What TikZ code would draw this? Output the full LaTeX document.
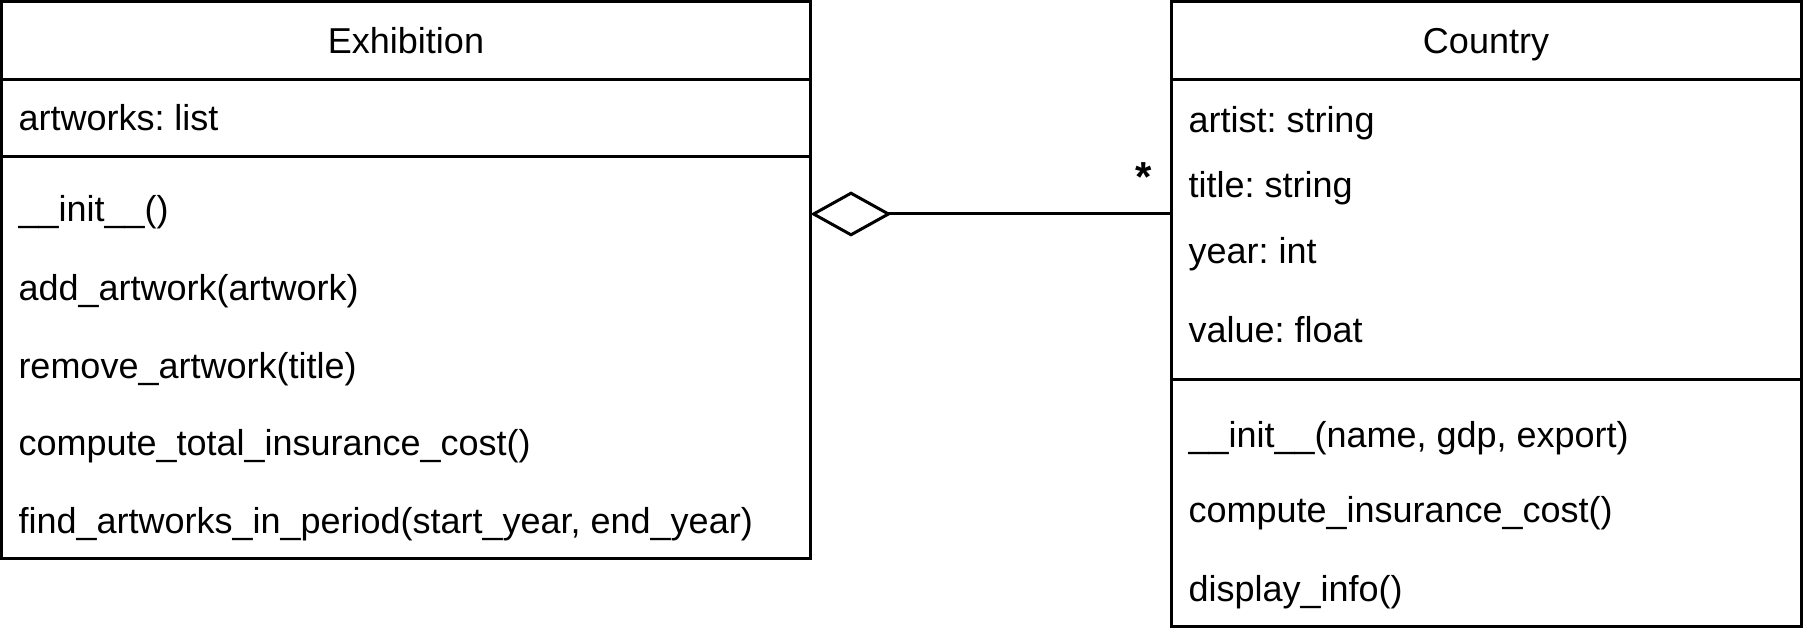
\documentclass[tikz,border=0pt]{standalone}
\usepackage{fontspec}
\setmainfont{Liberation Sans}
\usepackage{tikz}
\usetikzlibrary{positioning,arrows.meta}
\frenchspacing

\begin{document}
\begin{tikzpicture}[x=1pt, y=-1pt, line width=3pt,
    classbox/.style={draw, rectangle, inner sep=0pt, outer sep=0pt},
    member/.style={anchor=base west, inner sep=0pt, font=\fontsize{36}{43}\selectfont},
    classname/.style={anchor=base, inner sep=0pt, font=\fontsize{36}{43}\selectfont}]
    \useasboundingbox (0,0) rectangle (1803,636);

    % Exhibition
    \node[classbox, minimum width=809pt, minimum height=557pt] (exhibition) at (406,280) {};
    \node[classname] (exname) at (406,54) {Exhibition};
    \draw (exhibition.west |- 0,79.5) -- (exhibition.east |- 0,79.5);
    \draw (exhibition.west |- 0,157) -- (exhibition.east |- 0,157);
    \node[member] (exattr) at (17,131) {artworks: list};
    \node[member] (exm1) at (17,222) {\_\_init\_\_()};
    \node[member] (exm2) at (17,300) {add\_artwork(artwork)};
    \node[member] (exm3) at (17,378) {remove\_artwork(title)};
    \node[member] (exm4) at (17,455) {compute\_total\_insurance\_cost()};
    \node[member] (exm5) at (17,533) {find\_artworks\_in\_period(start\_year, end\_year)};

    % Country
    \node[classbox, minimum width=630.5pt, minimum height=625pt] (country) at (1486.25,314) {};
    \node[classname] (coname) at (1486,54) {Country};
    \draw (country.west |- 0,79.5) -- (country.east |- 0,79.5);
    \draw (country.west |- 0,379) -- (country.east |- 0,379);
    \node[member] (coattr1) at (1187,133) {artist: string};
    \node[member] (coattr2) at (1187,198) {title: string};
    \node[member] (coattr3) at (1187,263) {year: int};
    \node[member] (coattr4) at (1187,342) {value: float};
    \node[member] (com1) at (1187,447) {\_\_init\_\_(name, gdp, export)};
    \node[member] (com2) at (1187,522) {compute\_insurance\_cost()};
    \node[member] (com3) at (1187,601) {display\_info()};

    % Aggregation
    \draw[-{Diamond[open, length=81pt, width=45pt]}] (country.west |- 0,214) -- (exhibition.east |- 0,214);
    \node[classname, font=\fontsize{42}{48}\selectfont\bfseries] (mult) at (1144,192) {*};
\end{tikzpicture}
\end{document}
